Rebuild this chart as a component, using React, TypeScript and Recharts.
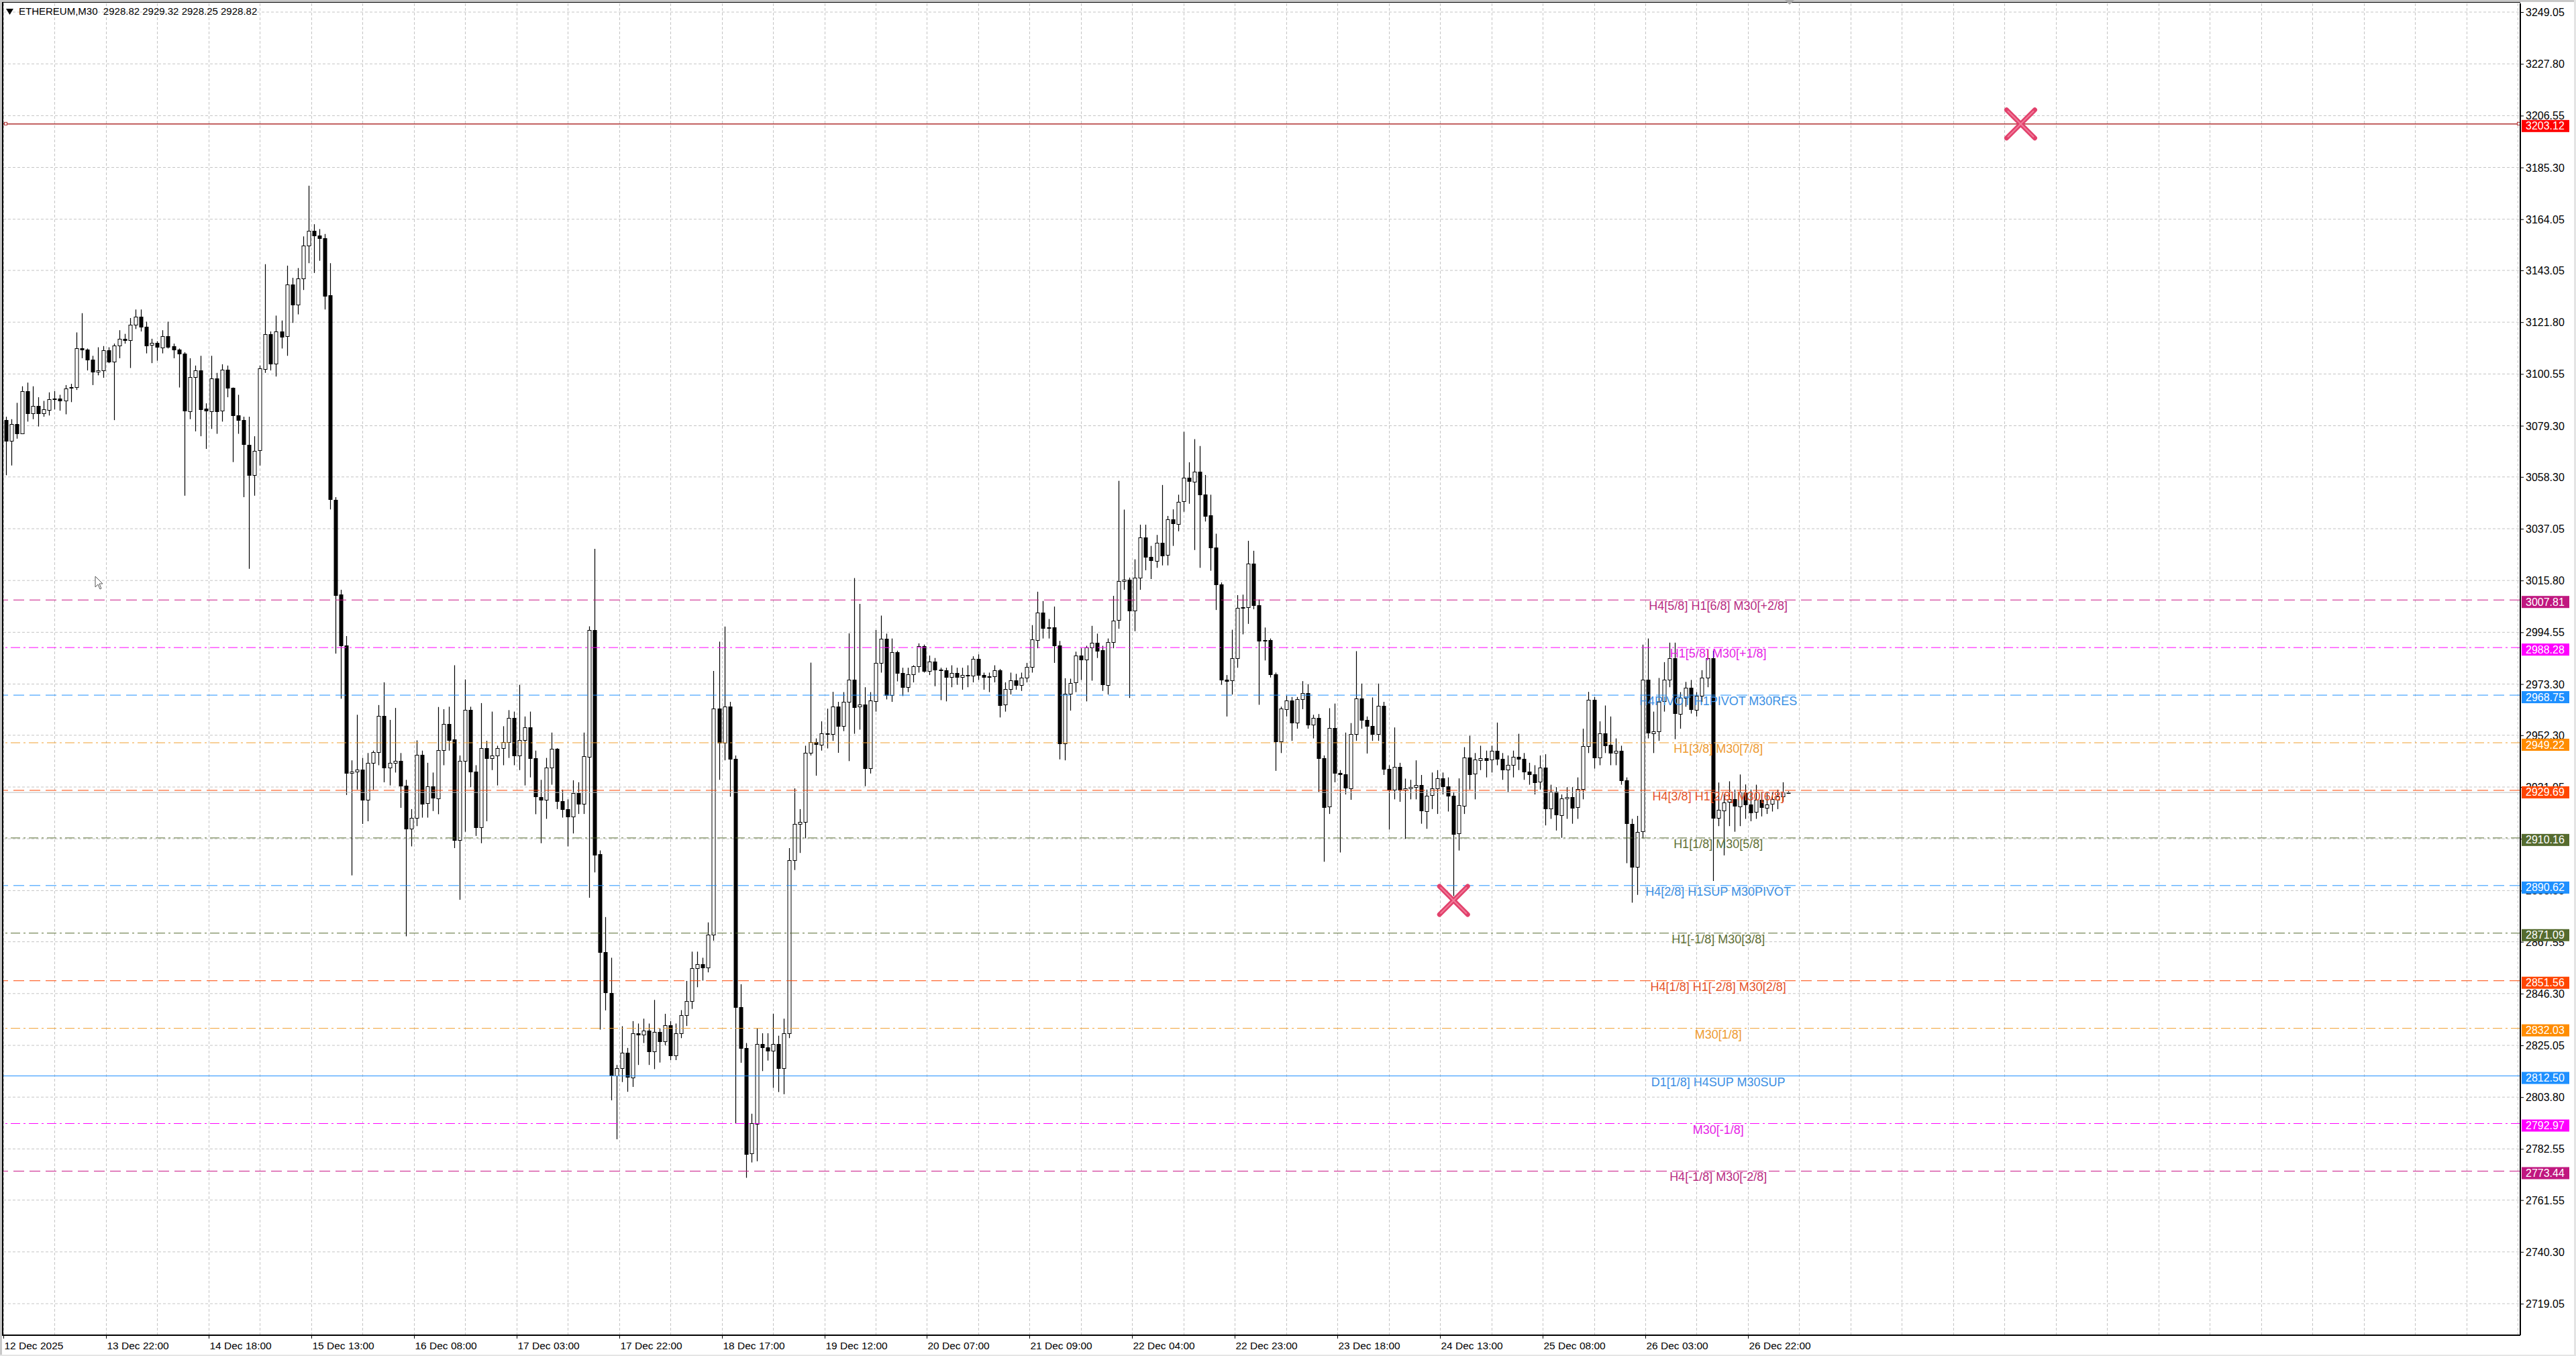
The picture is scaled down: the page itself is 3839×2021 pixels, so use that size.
import React from 'react';
import { ComposedChart, Bar, XAxis, YAxis, CartesianGrid, ReferenceLine, ReferenceDot } from 'recharts';

const CHART_W = 3839;
const CHART_H = 2021;
const MARGIN = { top: 5, right: 0, bottom: 0, left: 5 };
const Y_AXIS_W = 83;
const X_AXIS_H = 31;
const TOTAL_SLOTS = 466;
const PLOT_W = CHART_W - MARGIN.left - Y_AXIS_W;
const PLOT_RIGHT = CHART_W - Y_AXIS_W;
const SLOT_W = PLOT_W / TOTAL_SLOTS;
const FONT = '"Liberation Sans", Arial, sans-serif';

const titleSymbol = 'ETHEREUM,M30';
const titleQuote = ['2928.82', '2929.32', '2928.25', '2928.82'];

const dateLabels = [
  '12 Dec 2025', '13 Dec 22:00', '14 Dec 18:00', '15 Dec 13:00', '16 Dec 08:00', '17 Dec 03:00',
  '17 Dec 22:00', '18 Dec 17:00', '19 Dec 12:00', '20 Dec 07:00', '21 Dec 09:00', '22 Dec 04:00',
  '22 Dec 23:00', '23 Dec 18:00', '24 Dec 13:00', '25 Dec 08:00', '26 Dec 03:00', '26 Dec 22:00',
];
const LABEL_EVERY = 19;

const priceTicks = [
  3249.05, 3227.8, 3206.55, 3185.3, 3164.05, 3143.05, 3121.8, 3100.55, 3079.3, 3058.3, 3037.05,
  3015.8, 2994.55, 2973.3, 2952.3, 2931.05, 2909.8, 2888.55, 2867.55, 2846.3, 2825.05, 2803.8,
  2782.55, 2761.55, 2740.3, 2719.05,
];
const priceDomain = [2706.11, 3252.63];

// hourly candles: [open, high, low, close]
const ohlc: number[][] = [
  [3081.6, 3083, 3059, 3073], [3073, 3082, 3063, 3080], [3080, 3088.7, 3074, 3076.2], [3076.2, 3095.5, 3076, 3093.5],
  [3093.5, 3097, 3081, 3084.3], [3084.3, 3095.5, 3082, 3087.4], [3087.4, 3091, 3079, 3084.3], [3084.3, 3089.5, 3083, 3086],
  [3086, 3093, 3083.5, 3090.3], [3090.3, 3093.5, 3086, 3090.5], [3090.5, 3092, 3085.5, 3089.7], [3089.7, 3096, 3084, 3094.7],
  [3094.7, 3096.5, 3089, 3095.1], [3095.1, 3117.6, 3094, 3111], [3111, 3125.5, 3107, 3110.5], [3110.5, 3111, 3102, 3106.4],
  [3106.4, 3108, 3096, 3101.5], [3101.5, 3111.5, 3100, 3102], [3102, 3112, 3099, 3110.2], [3110.2, 3111.5, 3105, 3105.6],
  [3105.6, 3113, 3081.6, 3112.3], [3112.3, 3118.5, 3107, 3115], [3115, 3117, 3113, 3114.5], [3114.5, 3123.5, 3103, 3120.8],
  [3120.8, 3127, 3119, 3124], [3124, 3127, 3118, 3120], [3120, 3122, 3109, 3112.4], [3112.4, 3115, 3105, 3113.2],
  [3113.2, 3114, 3106, 3111.6], [3111.6, 3118.5, 3109, 3116.2], [3116.2, 3122, 3111, 3111.9], [3111.9, 3113, 3107, 3110.5],
  [3110.5, 3111, 3095, 3108.8], [3108.8, 3109.5, 3050.6, 3085.4], [3085.4, 3107, 3082, 3099.4], [3099.4, 3104, 3077, 3102.1],
  [3102.1, 3108, 3075, 3086.2], [3086.2, 3088.5, 3069.8, 3085.4], [3085.4, 3108, 3078, 3098.8], [3098.8, 3101, 3076, 3085.4],
  [3085.4, 3104.5, 3081, 3102.3], [3102.3, 3104, 3091, 3094.9], [3094.9, 3095, 3064.4, 3083.6], [3083.6, 3092, 3076, 3081.6],
  [3081.6, 3083, 3050, 3071.6], [3071.6, 3083, 3020.6, 3059.3], [3059.3, 3075, 3050.6, 3069.1], [3069.1, 3104, 3063, 3102.8],
  [3102.8, 3145.6, 3101, 3117], [3117, 3118, 3102, 3105], [3105, 3124.5, 3099.5, 3118.1], [3118.1, 3122.5, 3111, 3116],
  [3116, 3145, 3108, 3137.2], [3137.2, 3140, 3121.5, 3129], [3129, 3144, 3125, 3139.7], [3139.7, 3157, 3135, 3153.3],
  [3153.3, 3177.8, 3146, 3159.3], [3159.3, 3162, 3142, 3157.5], [3157.5, 3160, 3147, 3156.4], [3156.4, 3158, 3127, 3132.8],
  [3132.8, 3146, 3045, 3049], [3049, 3050, 2985.8, 3010], [3010, 3012, 2967.3, 2989.2], [2989.2, 2993, 2927.8, 2937],
  [2937, 2942, 2894.8, 2937.5], [2937.5, 2960.7, 2930, 2938.3], [2938.3, 2943, 2915.9, 2925.9], [2925.9, 2945, 2917, 2941],
  [2941, 2946, 2930, 2945.4], [2945.4, 2964.7, 2940, 2960.2], [2960.2, 2974, 2933, 2939.1], [2939.1, 2958.6, 2931.7, 2941],
  [2941, 2963.5, 2937, 2941.8], [2941.8, 2945, 2922.5, 2931.7], [2931.7, 2934, 2869.8, 2914], [2914, 2922, 2906.7, 2918.5],
  [2918.5, 2950.2, 2915, 2944.4], [2944.4, 2946, 2918.5, 2924.3], [2924.3, 2941, 2918.5, 2931.2], [2931.2, 2937, 2921.2, 2926.5],
  [2926.5, 2963.9, 2919.9, 2946.2], [2946.2, 2963, 2940, 2957], [2957, 2964, 2946, 2950.5], [2950.5, 2981, 2906, 2909.3],
  [2909.3, 2944, 2884.8, 2941.8], [2941.8, 2975.2, 2912.7, 2962.8], [2962.8, 2964, 2931, 2937.5], [2937.5, 2940, 2911, 2914.6],
  [2914.6, 2965.5, 2908, 2947], [2947, 2950, 2917, 2942.8], [2942.8, 2962, 2938, 2944], [2944, 2948, 2931.7, 2947],
  [2947, 2956, 2940, 2949.6], [2949.6, 2962.6, 2943, 2959.4], [2959.4, 2962, 2940, 2944], [2944, 2973, 2938, 2950.2],
  [2950.2, 2960, 2931.7, 2955.5], [2955.5, 2962, 2935, 2942.8], [2942.8, 2946, 2919.9, 2927], [2927, 2934, 2908, 2925.9],
  [2925.9, 2943, 2918, 2939.1], [2939.1, 2953.4, 2932, 2946.8], [2946.8, 2947, 2922, 2925.2], [2925.2, 2930, 2918.5, 2922],
  [2922, 2926, 2906.7, 2919], [2919, 2933.8, 2912, 2928.5], [2928.5, 2933, 2920, 2924], [2924, 2953.4, 2920, 2943.6],
  [2943.6, 2997, 2885.6, 2995.6], [2995.6, 3028.8, 2896, 2903.5], [2903.5, 2905, 2831.5, 2863.2], [2863.2, 2877.7, 2839.4, 2846.6],
  [2846.6, 2861, 2802.5, 2812.8], [2812.8, 2817, 2786.5, 2815.7], [2815.7, 2832.9, 2810, 2821.9], [2821.9, 2824, 2806, 2811.9],
  [2811.9, 2835, 2808, 2830], [2830, 2834, 2817, 2829.5], [2829.5, 2836, 2826, 2831.2], [2831.2, 2834, 2817, 2822.6],
  [2822.6, 2843.7, 2815.3, 2830.5], [2830.5, 2832, 2818, 2826.7], [2826.7, 2838, 2825, 2833.4], [2833.4, 2835, 2819, 2820.9],
  [2820.9, 2834, 2819, 2830], [2830, 2839.5, 2828, 2837.4], [2837.4, 2851.5, 2833, 2843.2], [2843.2, 2863.5, 2840, 2856.6],
  [2856.6, 2863.5, 2848.9, 2858.3], [2858.3, 2861, 2851.6, 2857], [2857, 2875.5, 2855, 2870.4], [2870.4, 2978.7, 2868, 2963.2],
  [2963.2, 2990.7, 2934, 2949.1], [2949.1, 2996.9, 2942, 2964.1], [2964.1, 2966, 2927.1, 2942.6], [2942.6, 2944, 2793, 2840.8],
  [2840.8, 2850.1, 2817.9, 2824], [2824, 2826, 2770.7, 2780.6], [2780.6, 2797, 2777, 2793], [2793, 2832, 2777.5, 2825.7],
  [2825.7, 2830, 2814.5, 2824.3], [2824.3, 2830, 2818.8, 2823], [2823, 2838, 2807.6, 2825.7], [2825.7, 2829, 2805.9, 2815.7],
  [2815.7, 2836, 2805, 2830], [2830, 2906, 2828, 2901], [2901, 2930.5, 2897, 2915.9], [2915.9, 2922, 2904, 2916.8],
  [2916.8, 2948, 2910, 2945.1], [2945.1, 2982.1, 2944, 2949.4], [2949.4, 2951, 2935.7, 2948.6], [2948.6, 2958, 2946, 2953.2],
  [2953.2, 2963.2, 2946.9, 2952.9], [2952.9, 2970.1, 2950, 2964.1], [2964.1, 2966, 2945.1, 2956], [2956, 2970, 2954, 2966],
  [2966, 2994.1, 2941.7, 2975.2], [2975.2, 3016.8, 2952.9, 2964], [2964, 3006.2, 2954.6, 2964.9], [2964.9, 2972, 2931.4, 2938.8],
  [2938.8, 2970, 2936.6, 2966.5], [2966.5, 2995.5, 2962, 2982.1], [2982.1, 3001.4, 2978, 2991.9], [2991.9, 2994, 2967, 2968.7],
  [2968.7, 2992, 2966, 2986.4], [2986.4, 2987, 2974.4, 2977.8], [2977.8, 2980, 2968.4, 2972.1], [2972.1, 2980, 2970, 2977.3],
  [2977.3, 2981, 2974, 2980.7], [2980.7, 2990, 2978, 2989], [2989, 2989.5, 2978, 2978.8], [2978.8, 2985, 2977, 2982.6],
  [2982.6, 2984, 2972.4, 2979.3], [2979.3, 2980, 2966.7, 2978.9], [2978.9, 2980, 2966.2, 2976.2], [2976.2, 2981, 2972, 2977.9],
  [2977.9, 2980, 2973, 2976.2], [2976.2, 2980, 2971, 2977], [2977, 2981, 2972, 2976.6], [2976.6, 2984.7, 2974, 2983.5],
  [2983.5, 2985.5, 2975, 2977], [2977, 2978, 2971, 2976.2], [2976.2, 2978, 2970, 2976.6], [2976.6, 2981, 2974, 2979],
  [2979, 2979.5, 2959.6, 2964.8], [2964.8, 2974, 2962, 2971.2], [2971.2, 2978, 2969, 2974.8], [2974.8, 2977.5, 2971, 2972.8],
  [2972.8, 2978, 2970.5, 2975.9], [2975.9, 2982, 2974, 2980.2], [2980.2, 2997.5, 2978, 2991.5], [2991.5, 3011.2, 2988, 3002.7],
  [3002.7, 3007.4, 2992, 2996.3], [2996.3, 3000, 2992, 2996.6], [2996.6, 3005.1, 2982, 2989.2], [2989.2, 2991, 2942.4, 2948.9],
  [2948.9, 2975.7, 2942, 2969.3], [2969.3, 2975.5, 2962.4, 2973.8], [2973.8, 2986.6, 2970, 2984.9], [2984.9, 2988, 2975, 2983.3],
  [2983.3, 2989, 2966.2, 2988.3], [2988.3, 2997.2, 2974.7, 2990.3], [2990.3, 2994, 2984, 2987.1], [2987.1, 2989, 2970.5, 2973.1],
  [2973.1, 2992, 2969, 2990.6], [2990.6, 3009.5, 2988, 2999.4], [2999.4, 3056.7, 2996, 3015.5], [3015.5, 3044.9, 3012, 3016],
  [3016, 3017, 2967.6, 3003.4], [3003.4, 3024.5, 2995, 3016.9], [3016.9, 3038.7, 3012, 3033.4], [3033.4, 3038.7, 3020, 3025.5],
  [3025.5, 3030, 3016.4, 3024], [3024, 3034.5, 3021, 3031.3], [3031.3, 3055, 3022, 3026.2], [3026.2, 3042.3, 3022, 3040.8],
  [3040.8, 3045, 3030, 3039.2], [3039.2, 3051, 3036, 3048.2], [3048.2, 3076.8, 3044, 3057.9], [3057.9, 3064.3, 3047.3, 3056.5],
  [3056.5, 3073.8, 3028.3, 3060.5], [3060.5, 3071, 3021, 3051.2], [3051.2, 3059.1, 3040, 3042.5], [3042.5, 3051, 3019.8, 3029.4],
  [3029.4, 3035, 3003.7, 3014.3], [3014.3, 3015, 2973, 2975.2], [2975.2, 2977, 2960, 2974.7], [2974.7, 2995.6, 2969, 2983.9],
  [2983.9, 3009.8, 2980, 3004.6], [3004.6, 3010, 2993.7, 3004.8], [3004.8, 3032.1, 2998, 3022.6], [3022.6, 3028, 3004, 3005.6],
  [3005.6, 3008, 2964.8, 2991], [2991, 2996.5, 2983, 2991.3], [2991.3, 2992, 2976, 2977.2], [2977.2, 2978, 2937.7, 2949.7],
  [2949.7, 2964, 2945, 2963.2], [2963.2, 2968.5, 2960, 2966.7], [2966.7, 2968, 2950, 2957.5], [2957.5, 2968, 2955, 2967.1],
  [2967.1, 2974.5, 2963, 2969.6], [2969.6, 2973.3, 2955, 2956.7], [2956.7, 2960.7, 2951, 2959.5], [2959.5, 2961, 2929, 2943],
  [2943, 2944, 2900.4, 2923], [2923, 2963.4, 2920, 2955.2], [2955.2, 2965.3, 2933, 2936.8], [2936.8, 2938, 2904.2, 2936.2],
  [2936.2, 2953.4, 2928, 2930.7], [2930.7, 2957.3, 2925.8, 2952.9], [2952.9, 2986.8, 2950, 2967.5], [2967.5, 2973.5, 2955, 2958.6],
  [2958.6, 2960, 2944.8, 2956.1], [2956.1, 2967.8, 2950, 2952.7], [2952.7, 2973.5, 2950, 2964.4], [2964.4, 2966, 2936, 2938.4],
  [2938.4, 2940, 2913.6, 2930], [2930, 2955.5, 2926, 2939.4], [2939.4, 2941, 2925, 2930], [2930, 2934.5, 2909.8, 2930.5],
  [2930.5, 2934, 2926, 2931], [2931, 2942, 2926, 2931.8], [2931.8, 2936, 2916, 2921.2], [2921.2, 2930, 2913.9, 2927.6],
  [2927.6, 2937, 2922, 2930.4], [2930.4, 2938, 2920, 2934.6], [2934.6, 2937, 2928, 2931.3], [2931.3, 2935, 2921, 2927.4],
  [2927.4, 2929, 2886.3, 2911.8], [2911.8, 2934.6, 2905, 2923.5], [2923.5, 2947.4, 2920, 2943.2], [2943.2, 2952.1, 2930, 2936.4],
  [2936.4, 2945, 2926, 2942.3], [2942.3, 2948, 2938, 2943], [2943, 2946, 2935, 2942.3], [2942.3, 2948, 2937, 2945.8],
  [2945.8, 2957.5, 2940, 2942.6], [2942.6, 2945, 2934, 2938.2], [2938.2, 2944, 2929, 2940.2], [2940.2, 2946, 2935, 2943.5],
  [2943.5, 2952.9, 2938, 2942.6], [2942.6, 2945, 2934, 2937.5], [2937.5, 2941, 2932, 2936.4], [2936.4, 2940, 2928, 2933.2],
  [2933.2, 2944, 2930, 2939], [2939, 2944.5, 2915.3, 2922.1], [2922.1, 2932, 2918, 2929], [2929, 2931, 2913.2, 2919.7],
  [2919.7, 2928, 2910.2, 2926.5], [2926.5, 2931, 2918, 2927], [2927, 2931, 2916, 2922.6], [2922.6, 2935, 2918, 2930.1],
  [2930.1, 2955, 2926, 2947.8], [2947.8, 2970.1, 2945, 2966.9], [2966.9, 2968, 2938.6, 2943.3], [2943.3, 2958, 2940, 2953.2],
  [2953.2, 2964.5, 2945, 2948.3], [2948.3, 2960, 2940, 2945.1], [2945.1, 2951, 2940, 2945.8], [2945.8, 2948, 2932, 2933.7],
  [2933.7, 2935, 2899.8, 2916], [2916, 2918, 2883.6, 2898.5], [2898.5, 2919.2, 2886.8, 2912.7], [2912.7, 2989.5, 2910, 2975],
  [2975, 2992, 2951, 2953.2], [2953.2, 2962, 2945, 2954], [2954, 2975.8, 2950, 2966.1], [2966.1, 2982.3, 2962, 2975],
  [2975, 2990.3, 2972, 2983.9], [2983.9, 2990.3, 2950.7, 2961.2], [2961.2, 2970, 2955, 2967.7], [2967.7, 2974.2, 2964, 2971.7],
  [2971.7, 2975, 2961.2, 2962.8], [2962.8, 2970, 2960, 2968.5], [2968.5, 2979, 2966, 2975.8], [2975.8, 2987.5, 2972, 2983.9],
  [2983.9, 2987, 2892.5, 2918.4], [2918.4, 2932.9, 2915, 2921.6], [2921.6, 2928, 2903, 2924.8], [2924.8, 2933.4, 2915, 2926],
  [2926, 2930, 2912.7, 2923.2], [2923.2, 2936.2, 2915, 2928.9], [2928.9, 2932.1, 2918, 2924], [2924, 2930, 2917, 2920.8],
  [2920.8, 2932, 2918, 2925.7], [2925.7, 2929, 2919, 2922.7], [2922.7, 2929, 2920, 2924], [2924, 2929, 2921, 2926],
  [2926, 2930, 2922, 2927.3], [2927.3, 2933, 2925, 2928.9], [2928.82, 2929.32, 2928.25, 2928.82],
];

const bidPrice = 2928.82;
const targetPrice = 3203.12;

const levelPrices = [3007.81, 2988.28, 2968.75, 2949.22, 2929.69, 2910.16, 2890.62, 2871.09, 2851.56, 2832.03, 2812.5, 2792.97, 2773.44];
const levelNames = [
  'H4[5/8] H1[6/8] M30[+2/8]', 'H1[5/8] M30[+1/8]', 'H4PIVOT H1PIVOT M30RES', 'H1[3/8] M30[7/8]',
  'H4[3/8] H1[2/8] M30[6/8]', 'H1[1/8] M30[5/8]', 'H4[2/8] H1SUP M30PIVOT', 'H1[-1/8] M30[3/8]',
  'H4[1/8] H1[-2/8] M30[2/8]', 'M30[1/8]', 'D1[1/8] H4SUP M30SUP', 'M30[-1/8]', 'H4[-1/8] M30[-2/8]',
];
const LEVEL_NAME_SLOT = 317;

const crossSlots = [268, 373];
const crossPrices = [2884.5, 3203.12];

// ---- styles ----
const STYLES: Record<string, { line: string; box: string; text: string; dash?: string }> = {
  violet: { line: '#C71585', box: '#C0177F', text: '#B82C82', dash: '16 8' },
  magenta: { line: '#FF00FF', box: '#FF00FF', text: '#E61EE6', dash: '14 5 3 5' },
  blue: { line: '#1E90FF', box: '#1E90FF', text: '#3B8FE4', dash: '16 8' },
  orange: { line: '#F0A030', box: '#FF8C00', text: '#EE9B30', dash: '14 5 3 5' },
  orangered: { line: '#FF4500', box: '#FF4500', text: '#E5532A', dash: '16 8' },
  olive: { line: '#556B2F', box: '#556B2F', text: '#5F7035', dash: '14 5 3 5' },
  blueSolid: { line: '#1E90FF', box: '#1E90FF', text: '#3B8FE4' },
  target: { line: '#B03030', box: '#FF0000', text: '#FF0000' },
};
const levelStyleKeys = ['violet', 'magenta', 'blue', 'orange', 'orangered', 'olive', 'blue', 'olive', 'orangered', 'orange', 'blueSolid', 'magenta', 'violet'];

// axis ticks: plain price ticks first, then the level boxes (drawn later, so on top)
const boxTicks = [targetPrice, ...levelPrices];
const boxStyleKeys = ['target', ...levelStyleKeys];
const axisTicks = [...priceTicks, ...boxTicks];

const chartData = Array.from({ length: TOTAL_SLOTS }, (_, i) => {
  const c = ohlc[i];
  if (!c) return { slot: i, range: null as any };
  return { slot: i, o: c[0], h: c[1], l: c[2], c: c[3], range: [c[2], c[1]] };
});

const CandleShape = (props: any) => {
  const { x, y, width, height, payload } = props;
  if (!payload || payload.h == null || y == null || isNaN(y)) return <g />;
  const { o, h, l, c } = payload;
  const span = h - l;
  const toY = (v: number) => (span > 0 ? y + ((h - v) / span) * height : y);
  const cx = Math.round(x + width / 2);
  const yo = toY(o);
  const yc = toY(c);
  const top = Math.round(Math.min(yo, yc)) + 0.5;
  const bodyH = Math.max(Math.round(Math.abs(yc - yo)), 1);
  const bull = c >= o;
  return (
    <g>
      <line x1={cx + 0.5} x2={cx + 0.5} y1={y} y2={y + height} stroke="#000" strokeWidth={1.2} />
      <rect x={cx - 2} y={top} width={5} height={bodyH} fill={bull ? '#fff' : '#000'} stroke="#000" strokeWidth={1} />
    </g>
  );
};

const AxisTick = (p: any) => {
  const { y, payload, index } = p;
  const v = Number(payload.value);
  const x = PLOT_RIGHT;
  const bi = typeof index === 'number' && index >= priceTicks.length ? index - priceTicks.length : -1;
  if (bi >= 0) {
    const st = STYLES[boxStyleKeys[bi] || 'blue'];
    return (
      <g>
        <rect x={x + 2} y={y - 6} width={71} height={18} fill={st.box} />
        <text x={x + 8} y={y + 8.5} fontSize={16} fontFamily={FONT} fill="#fff">
          {v.toFixed(2)}
        </text>
      </g>
    );
  }
  return (
    <g>
      <line x1={x} x2={x + 5} y1={y + 0.5} y2={y + 0.5} stroke="#000" strokeWidth={1} />
      <text x={x + 8} y={y + 6} fontSize={16} fontFamily={FONT} fill="#000">
        {v.toFixed(2)}
      </text>
    </g>
  );
};

const DateTick = (p: any) => {
  const { x, y, payload } = p;
  const idx = Number(payload.value);
  if (idx % LABEL_EVERY !== 0) return <g />;
  const lbl = dateLabels[idx / LABEL_EVERY];
  if (!lbl) return <g />;
  const lx = Math.round(x - SLOT_W / 2) + 0.5;
  return (
    <g>
      <line x1={lx} x2={lx} y1={y} y2={y + 5} stroke="#000" strokeWidth={1} />
      <text x={lx + 1} y={y + 21} fontSize={15.5} fontFamily={FONT} fill="#000">
        {lbl}
      </text>
    </g>
  );
};

const targetEnds = (lp: any) => {
  const vb = lp && lp.viewBox;
  if (!vb) return null;
  const right = vb.x + vb.width;
  const y = vb.y;
  return (
    <g>
      <rect x={vb.x + 1.5} y={y - 2.5} width={4} height={4} fill="#fff" stroke="#B03030" strokeWidth={1} />
      <rect x={right - 4.5} y={y - 2.5} width={4} height={4} fill="#fff" stroke="#B03030" strokeWidth={1} />
    </g>
  );
};

const makeNameShape = (name: string, color: string) => (sp: any) => (
  <text x={sp.cx} y={sp.cy + 15} textAnchor="middle" fontSize={18} fontFamily={FONT} fill={color}>
    {name}
  </text>
);

const CrossShape = (sp: any) => {
  const { cx, cy } = sp;
  const r = 21;
  return (
    <g>
      <line x1={cx - r} y1={cy - r} x2={cx + r} y2={cy + r} stroke="#E2416C" strokeWidth={7} strokeLinecap="round" />
      <line x1={cx - r} y1={cy + r} x2={cx + r} y2={cy - r} stroke="#E2416C" strokeWidth={7} strokeLinecap="round" />
      <line x1={cx - r + 2} y1={cy - r + 2} x2={cx + r - 2} y2={cy + r - 2} stroke="#F07A98" strokeWidth={2} strokeLinecap="round" />
      <line x1={cx - r + 2} y1={cy + r - 2} x2={cx + r - 2} y2={cy - r + 2} stroke="#F07A98" strokeWidth={2} strokeLinecap="round" />
    </g>
  );
};

const verticalGrid = (args: any) => {
  const off = (args && args.offset) || { left: MARGIN.left, width: PLOT_W };
  const slotW = off.width / TOTAL_SLOTS;
  const xs: number[] = [];
  for (let k = 0; k * 9.5 < TOTAL_SLOTS; k++) xs.push(Math.round(off.left + k * 9.5 * slotW) + 0.5);
  return xs;
};

export default function App() {
  return (
    <div style={{ position: 'fixed', left: 0, top: 0, width: CHART_W, height: CHART_H, background: '#fff', overflow: 'hidden' }}>
      <ComposedChart
        width={CHART_W}
        height={CHART_H}
        data={chartData}
        margin={MARGIN}
        barCategoryGap={0}
        barGap={0}
      >
        <CartesianGrid
          stroke="#C4C4C4"
          strokeDasharray="4 3"
          verticalCoordinatesGenerator={verticalGrid}
          horizontalValues={priceTicks}
          syncWithTicks={false}
        />
        <XAxis
          dataKey="slot"
          type="category"
          interval={LABEL_EVERY - 1}
          height={X_AXIS_H}
          tickLine={false}
          tickSize={0}
          tickMargin={0}
          axisLine={{ stroke: '#000', strokeWidth: 2 }}
          tick={DateTick}
        />
        <YAxis
          orientation="right"
          domain={priceDomain}
          ticks={axisTicks}
          interval={0}
          allowDataOverflow
          width={Y_AXIS_W}
          tickLine={false}
          tickSize={0}
          tickMargin={0}
          axisLine={{ stroke: '#000', strokeWidth: 2 }}
          tick={AxisTick}
        />
        <ReferenceLine y={bidPrice} stroke="#BDBDBD" strokeWidth={1} />
        <Bar dataKey="range" isAnimationActive={false} shape={CandleShape} />
        <ReferenceLine y={targetPrice} stroke="#B03030" strokeWidth={1.5} label={targetEnds} />
        {levelPrices.map((p, i) => {
          const st = STYLES[levelStyleKeys[i]];
          return (
            <ReferenceLine key={'lv' + i} y={p} stroke={st.line} strokeWidth={1} strokeDasharray={st.dash} />
          );
        })}
        {levelPrices.map((p, i) => {
          const st = STYLES[levelStyleKeys[i]];
          return (
            <ReferenceDot
              key={'nm' + i}
              x={LEVEL_NAME_SLOT}
              y={p}
              r={0}
              shape={makeNameShape(levelNames[i], st.text)}
            />
          );
        })}
        {crossSlots.map((s, i) => (
          <ReferenceDot key={'x' + i} x={s} y={crossPrices[i]} r={0} shape={CrossShape} />
        ))}
      </ComposedChart>
      {/* window frame */}
      <div style={{ position: 'absolute', left: 0, top: 0, width: CHART_W, height: 3, background: '#C8C8C8' }} />
      <div style={{ position: 'absolute', left: 0, top: 3, width: CHART_W - 83, height: 1, background: '#000' }} />
      <div style={{ position: 'absolute', left: 0, top: 0, width: 3, height: CHART_H, background: '#C8C8C8' }} />
      <div style={{ position: 'absolute', left: 3, top: 3, width: 1.5, height: 1988, background: '#000' }} />
      <div style={{ position: 'absolute', right: 0, top: 0, width: 3, height: CHART_H, background: '#E4E4E4' }} />
      <div style={{ position: 'absolute', left: 0, bottom: 0, width: CHART_W, height: 2, background: '#E4E4E4' }} />
      <svg style={{ position: 'absolute', left: 2660, top: 0 }} width={14} height={8}>
        <polygon points="0,0 14,0 7,7" fill="#A8A8A8" />
      </svg>
      {/* mouse pointer left on the chart */}
      <svg style={{ position: 'absolute', left: 141, top: 858 }} width={14} height={22}>
        <polygon points="1,1 1,17 5,13 8,20 10,19 7,12 12,12" fill="#fff" stroke="#555" strokeWidth={1} />
      </svg>
      {/* title */}
      <svg style={{ position: 'absolute', left: 9, top: 13 }} width={12} height={10}>
        <polygon points="0,0 11,0 5.5,9" fill="#000" />
      </svg>
      <div
        style={{
          position: 'absolute',
          left: 28,
          top: 8,
          fontFamily: FONT,
          fontSize: 15,
          color: '#000',
          whiteSpace: 'pre',
          lineHeight: '18px',
        }}
      >
        {titleSymbol + '  ' + titleQuote.join(' ')}
      </div>
    </div>
  );
}
